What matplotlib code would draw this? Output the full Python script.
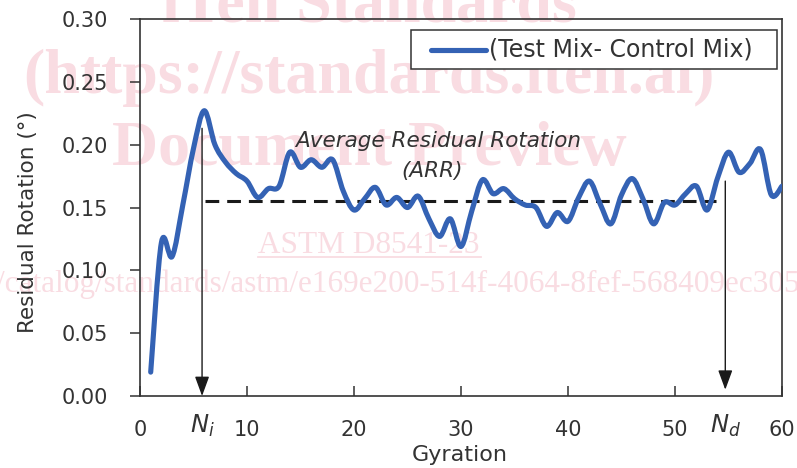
import numpy as np
import matplotlib
matplotlib.use("Agg")
import matplotlib.pyplot as plt
from matplotlib.path import Path
from matplotlib.patches import PathPatch, Rectangle
from matplotlib.lines import Line2D

# ---- data ----
gyration = list(range(1, 61))
residual_rotation = [
    0.019, 0.122, 0.111, 0.152, 0.197, 0.227, 0.200, 0.186, 0.177, 0.171,
    0.158, 0.165, 0.167, 0.194, 0.182, 0.188, 0.182, 0.188, 0.163, 0.148,
    0.157, 0.166, 0.152, 0.158, 0.150, 0.159, 0.141, 0.127, 0.141, 0.119,
    0.147, 0.172, 0.161, 0.165, 0.157, 0.152, 0.150, 0.135, 0.146, 0.139,
    0.158, 0.171, 0.153, 0.137, 0.160, 0.173, 0.157, 0.137, 0.154, 0.152,
    0.161, 0.167, 0.148, 0.174, 0.194, 0.178, 0.185, 0.196, 0.160, 0.167,
]
arr_value = 0.155
arr_start, arr_end = 6.07, 53.8
n_i = 5.8
n_d = 54.7
n_i_top = 0.213
n_d_top = 0.171
n_d_tip = 0.005
series_label = "(Test Mix- Control Mix)"
x_ticks = [0, 10, 20, 30, 40, 50, 60]
y_ticks = [0.00, 0.05, 0.10, 0.15, 0.20, 0.25, 0.30]

W, H = 797, 468
fig = plt.figure(figsize=(W / 100, H / 100), dpi=100)
fig.patch.set_facecolor("white")

def fx(px):
    return px / W

def fy(py):
    return 1 - py / H

# ---- watermark (behind the chart) ----
wm_color = "#f9dce2"
serif = ["Liberation Serif", "DejaVu Serif"]
for txt, py in [("iTeh Standards", 21), ("(https://standards.iteh.ai)", 93),
                ("Document Preview", 165)]:
    fig.text(fx(369), fy(py), txt, ha="center", va="baseline", fontsize=46,
             fontweight="bold", family=serif, color=wm_color, zorder=-5)
fig.text(fx(369), fy(253), "ASTM D8541-23", ha="center", va="baseline",
         fontsize=22.5, family=serif, color=wm_color, zorder=-5)
fig.add_artist(Line2D([fx(258), fx(481)], [fy(256.5), fy(256.5)],
                      color=wm_color, lw=1.3, zorder=-5))
fig.text(fx(800), fy(292), "/catalog/standards/astm/e169e200-514f-4064-8fef-568409ec305",
         ha="right", va="baseline", fontsize=22.5, family=serif, color=wm_color, zorder=-5)

# ---- axes ----
ax = fig.add_axes([fx(140), fy(396), (782 - 140) / W, (396 - 19) / H])
ax.patch.set_alpha(0)
ax.set_xlim(0, 60)
ax.set_ylim(0, 0.30)

line_color = "#3462b4"
txt_color = "#333333"

# smoothed line (Catmull-Rom -> cubic Bezier) through the data points
x = np.asarray(gyration, float)
y = np.asarray(residual_rotation, float)
verts = [(x[0], y[0])]
codes = [Path.MOVETO]
n = len(x)
for i in range(n - 1):
    p0 = np.array([x[max(i - 1, 0)], y[max(i - 1, 0)]])
    p1 = np.array([x[i], y[i]])
    p2 = np.array([x[i + 1], y[i + 1]])
    p3 = np.array([x[min(i + 2, n - 1)], y[min(i + 2, n - 1)]])
    c1 = p1 + (p2 - p0) / 6.0
    c2 = p2 - (p3 - p1) / 6.0
    verts += [tuple(c1), tuple(c2), tuple(p2)]
    codes += [Path.CURVE4] * 3
patch = PathPatch(Path(verts, codes), facecolor="none", edgecolor=line_color,
                  lw=3.7, capstyle="round", joinstyle="round", zorder=4)
ax.add_patch(patch)

# average residual rotation dashed line
ax.plot([arr_start, arr_end], [arr_value, arr_value], color="#1a1a1a", lw=2.2,
        linestyle=(0, (4.5, 2.6)), zorder=3)

# arrows
arrow_style = "-|>,head_length=0.6,head_width=0.22"
ax.annotate("", xy=(n_i, 0.0), xytext=(n_i, n_i_top),
            arrowprops=dict(arrowstyle=arrow_style, lw=1.0, color="#1a1a1a",
                            shrinkA=0, shrinkB=0, mutation_scale=20), zorder=2)
ax.annotate("", xy=(n_d, n_d_tip), xytext=(n_d, n_d_top),
            arrowprops=dict(arrowstyle=arrow_style, lw=1.0, color="#1a1a1a",
                            shrinkA=0, shrinkB=0, mutation_scale=20), zorder=2)

# annotation text
ax.text(27.9, 0.2028, "Average Residual Rotation", ha="center", va="center",
        fontsize=15.5, style="italic", color=txt_color)
ax.text(27.3, 0.179, "(ARR)", ha="center", va="center",
        fontsize=15.5, style="italic", color=txt_color)

# ticks
ax.set_xticks(x_ticks)
ax.set_yticks(y_ticks)
ax.set_yticklabels([f"{v:.2f}" for v in y_ticks])
ax.tick_params(axis="x", direction="in", length=7, width=1.1, pad=17,
               labelsize=15, labelcolor=txt_color, color="#333333")
ax.tick_params(axis="y", direction="out", length=7, width=1.1, pad=16,
               labelsize=15, labelcolor=txt_color, color="#333333")
for s in ax.spines.values():
    s.set_color("#333333")
    s.set_linewidth(1.2)

# Ni / Nd labels
ax.text(n_i, -0.029, "$N_i$", ha="center", va="baseline", fontsize=17.5, color=txt_color)
ax.text(n_d, -0.029, "$N_d$", ha="center", va="baseline", fontsize=17.5, color=txt_color)

# axis labels
fig.text(fx(460), fy(455), "Gyration", ha="center", va="center", fontsize=16,
         color=txt_color)
fig.text(fx(28), fy(222), "Residual Rotation (°)", ha="center", va="center",
         rotation=90, fontsize=15.5, color=txt_color)

# legend (box, handle, label)
fig.add_artist(Rectangle((fx(411), fy(69)), (777 - 411) / W, 39 / H,
                         transform=fig.transFigure, facecolor="white",
                         edgecolor="#333333", lw=1.1, zorder=5))
fig.add_artist(Line2D([fx(431), fx(486)], [fy(49.5), fy(49.5)], color=line_color,
                      lw=3.7, solid_capstyle="round", zorder=6))
fig.text(fx(489), fy(50), series_label, ha="left", va="center", fontsize=17,
         color=txt_color, zorder=6)

fig.savefig("out.png", dpi=100)
